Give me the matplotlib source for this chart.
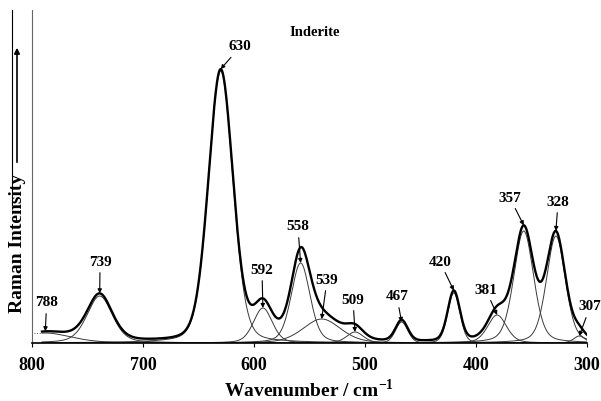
import numpy as np
import matplotlib
matplotlib.use("Agg")
import matplotlib.pyplot as plt
from matplotlib.lines import Line2D

plt.rcParams['font.family'] = ['Liberation Serif', 'DejaVu Serif']
plt.rcParams['font.weight'] = 'bold'
plt.rcParams['mathtext.fontset'] = 'custom'
plt.rcParams['mathtext.rm'] = 'Liberation Serif:bold'
plt.rcParams['mathtext.bf'] = 'Liberation Serif:bold'

# fitted bands: position (cm-1), height (a.u.), FWHM (cm-1), lorentzian fraction
centers = [788, 739, 630, 592, 558, 539, 509, 467, 420, 381, 357, 328, 307]
heights = [10, 47, 272, 35, 80, 24, 11, 21, 50, 28, 112, 107, 7]
fwhms = [55, 27, 26, 20, 20, 40, 18, 13, 13, 20, 21, 20, 12]
etas = [0.4, 0.35, 0.2, 0.3, 0.3, 0.3, 0.3, 0.2, 0.2, 0.3, 0.3, 0.3, 0.3]

# label text positions for each band
label_x = [786.8, 738.7, 612.6, 592.8, 560.4, 534.2, 510.8, 471.2, 432.4, 391.0, 369.4, 326.1, 297.3]
label_y = [40, 81, 296, 73, 116, 63, 43, 46, 81, 53, 145, 141, 36]

wn = np.linspace(791, 300, 1200)


def pseudo_voigt(x, c, h, w, eta):
    u = (x - c) / (w / 2.0)
    lor = 1.0 / (1.0 + u ** 2)
    gau = np.exp(-np.log(2) * u ** 2)
    return h * (eta * lor + (1 - eta) * gau)


bands = [pseudo_voigt(wn, c, h, w, e) for c, h, w, e in zip(centers, heights, fwhms, etas)]
envelope = np.sum(bands, axis=0)

fig = plt.figure(figsize=(6.01, 4.01), dpi=100)
ax = fig.add_axes([32 / 601, 58 / 401, 555 / 601, 333 / 401])

for b in bands:
    ax.plot(wn, b, color='#3a3a3a', lw=0.7)
ax.plot(wn, envelope, color='black', lw=1.7)

for c, h, w, e, tx, ty in zip(centers, heights, fwhms, etas, label_x, label_y):
    tip = pseudo_voigt(np.array([c]), c, h, w, e)[0]
    if c in (788, 630, 739, 420, 357, 328):
        tip = np.interp(c, wn[::-1], envelope[::-1])
    ax.annotate(str(c), xy=(c, tip), xytext=(tx, ty), ha='center', va='center',
                fontsize=11, fontweight='bold', annotation_clip=False,
                arrowprops=dict(arrowstyle='-|>', color='black', lw=0.8,
                                mutation_scale=6, shrinkA=1, shrinkB=0))

ax.set_xlim(800, 300)
ax.set_ylim(0, 333)
ax.set_xticks([800, 700, 600, 500, 400, 300])
ax.tick_params(axis='x', direction='out', length=3, width=0.8, pad=7, labelsize=13)
ax.set_yticks([])
for lab in ax.get_xticklabels():
    lab.set_fontweight('bold')
ax.spines['top'].set_visible(False)
ax.spines['right'].set_visible(False)
ax.spines['left'].set_color('#666666')
ax.spines['left'].set_linewidth(0.8)
ax.spines['bottom'].set_linewidth(1.2)

# small baseline markers at the left edge
ax.plot([798, 791], [10, 10], color='#555555', lw=0.7, ls=':')
ax.plot([798, 791], [0.5, 0.5], color='#555555', lw=0.7, ls=':')

fig.text(309 / 601, 1 - 390 / 401, r'Wavenumber / cm$^{-1}$', ha='center', va='center',
         fontsize=14, fontweight='bold')
fig.text(18 / 601, 1 - 243 / 401, 'Raman Intensity', ha='center', va='center',
         rotation=90, fontsize=14, fontweight='bold')
fig.text(315 / 601, 1 - 33 / 401, 'Inderite', ha='center', va='center',
         fontsize=10.5, fontweight='bold')

# intensity arrow beside the y label
fig.add_artist(Line2D([12 / 601, 12 / 601], [1 - 10 / 401, 1 - 205 / 401],
                      transform=fig.transFigure, color='black', lw=0.8))
ax.annotate('', xy=(17 / 601, 1 - 45 / 401), xytext=(17 / 601, 1 - 165 / 401),
            xycoords='figure fraction', textcoords='figure fraction',
            arrowprops=dict(arrowstyle='-|>', color='black', lw=1.2, mutation_scale=8))

fig.savefig('out.png', dpi=100)
